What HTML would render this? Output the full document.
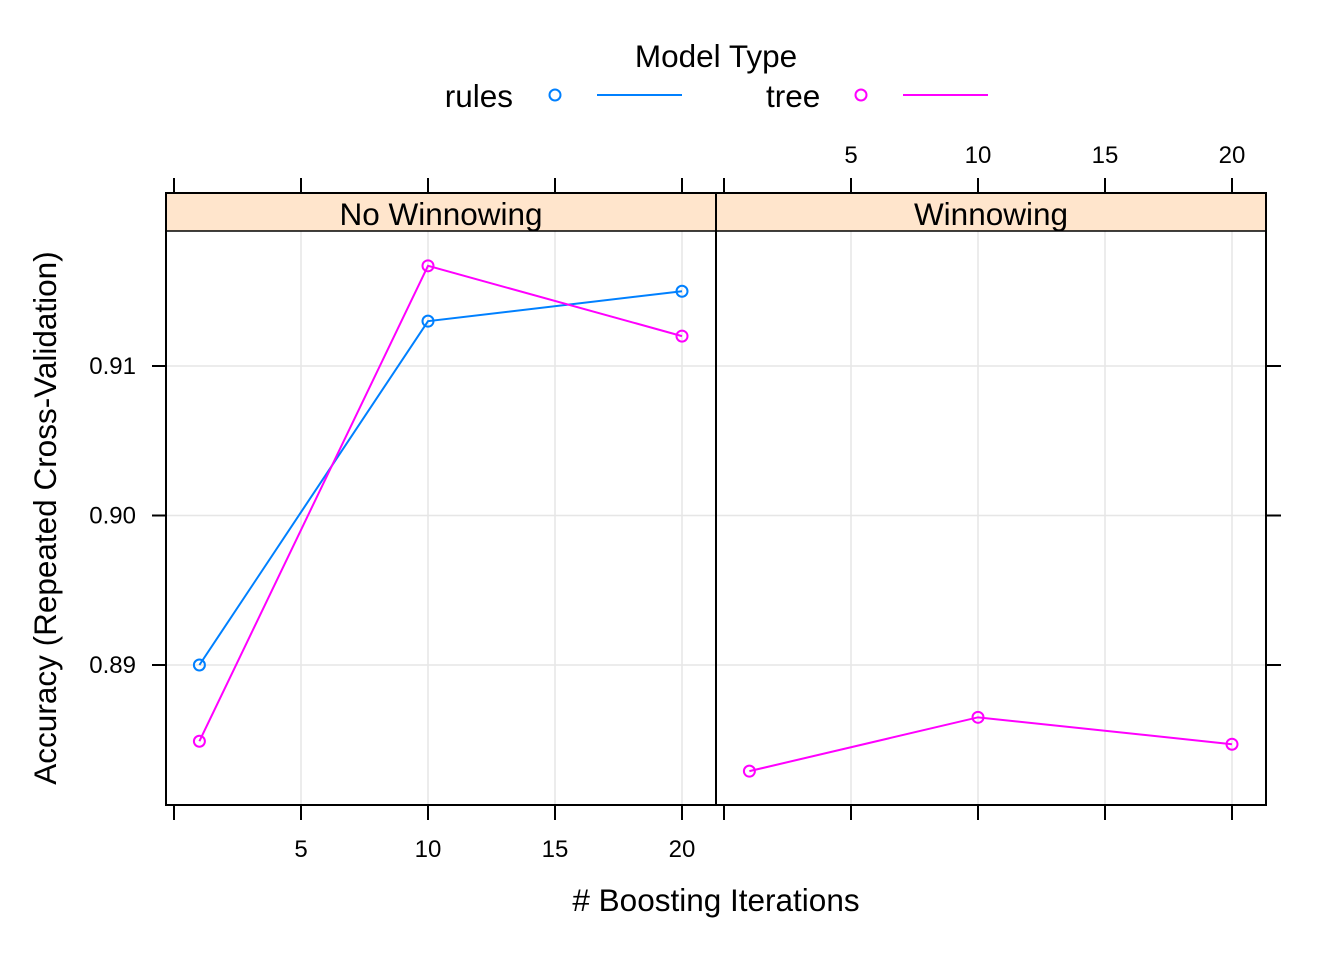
<!DOCTYPE html>
<html><head><meta charset="utf-8"><style>
body{margin:0;background:#fff}
svg text{font-family:"Liberation Sans",Arial,sans-serif;fill:#000}
</style></head><body>
<svg id="chart" width="1344" height="960" xmlns="http://www.w3.org/2000/svg">
<g id="legend">
<text x="716" y="67" font-size="31.5" text-anchor="middle">Model Type</text>
<text x="513" y="107" font-size="31.5" text-anchor="end">rules</text>
<circle cx="555" cy="95" r="5.5" fill="none" stroke="#0080ff" stroke-width="2"/>
<line x1="597" x2="682" y1="95" y2="95" stroke="#0080ff" stroke-width="2"/>
<text x="766" y="107" font-size="31.5">tree</text>
<circle cx="861" cy="95" r="5.5" fill="none" stroke="#ff00ff" stroke-width="2"/>
<line x1="903" x2="988" y1="95" y2="95" stroke="#ff00ff" stroke-width="2"/>
</g>
<text transform="translate(56,518) rotate(-90)" font-size="31.5" text-anchor="middle">Accuracy (Repeated Cross-Validation)</text>
<text x="716" y="911" font-size="31.5" text-anchor="middle"># Boosting Iterations</text>
<g id="plot"></g>
</svg>
<script>
const panels = ["No Winnowing", "Winnowing"];
const iterations = [1, 10, 20];
const rulesNoWinnow = [0.8900, 0.9130, 0.9150];
const treeNoWinnow = [0.8849, 0.9167, 0.9120];
const rulesWinnow = [];
const treeWinnow = [0.8829, 0.8865, 0.8847];
const xTicks = [0, 5, 10, 15, 20];
const xTickLabels = ["", "5", "10", "15", "20"];
const yTicks = [0.89, 0.90, 0.91];
const yTickLabels = ["0.89", "0.90", "0.91"];

(function () {
const NS = "http://www.w3.org/2000/svg";
const g = document.getElementById("plot");
const panelW = 550, topY = 193, stripH = 38, bottomY = 805;
const panelLeft = i => 166 + i * panelW;
const x = (v, i) => panelLeft(i) + 8 + v * 25.4;
const y = v => 366 + (0.91 - v) * 14950;
function mk(tag, attrs, parent) {
  const e = document.createElementNS(NS, tag);
  for (const k in attrs) e.setAttribute(k, attrs[k]);
  (parent || g).appendChild(e);
  return e;
}
const seriesByPanel = [
  [["rules", rulesNoWinnow, "#0080ff"], ["tree", treeNoWinnow, "#ff00ff"]],
  [["rules", rulesWinnow, "#0080ff"], ["tree", treeWinnow, "#ff00ff"]]
];
panels.forEach((name, i) => {
  const L = panelLeft(i), R = L + panelW;
  const pg = mk("g", {});
  
  
  xTicks.slice(1).forEach(t => {
    const l = mk("line", {x1: x(t, i), x2: x(t, i), y1: topY + stripH, y2: bottomY, stroke: "#e6e6e6", "stroke-width": 1.5}, pg);
    
    
  });
  yTicks.forEach(t => {
    const l = mk("line", {x1: L, x2: R, y1: y(t), y2: y(t), stroke: "#e6e6e6", "stroke-width": 1.5}, pg);
    
    
  });
  const s = mk("rect", {x: L, y: topY, width: panelW, height: stripH, fill: "#ffe5cc", stroke: "#000", "stroke-width": 1.5}, pg);
  
  
  const st = mk("text", {x: L + panelW / 2, y: topY + 32, "font-size": 31.5, "text-anchor": "middle"}, pg);
  st.textContent = name;
  
  
  seriesByPanel[i].forEach(([sn, vals, col]) => {
    if (!vals.length) return;
    const pts = vals.map((v, k) => x(iterations[k], i) + "," + y(v)).join(" ");
    const pl = mk("polyline", {points: pts, fill: "none", stroke: col, "stroke-width": 2}, pg);
    
    
    vals.forEach((v, k) => {
      const c = mk("circle", {cx: x(iterations[k], i), cy: y(v), r: 5.5, fill: "none", stroke: col, "stroke-width": 2}, pg);
      
      
    });
  });
  const f = mk("rect", {x: L, y: topY, width: panelW, height: bottomY - topY, fill: "none", stroke: "#000", "stroke-width": 2}, pg);
  
  
  xTicks.forEach((t, k) => {
    const yt = i === 0 ? bottomY : topY;
    const d = i === 0 ? 15 : -15;
    mk("line", {x1: x(t, i), x2: x(t, i), y1: yt, y2: yt + d, stroke: "#000", "stroke-width": 2}, pg);
    const ot = i === 0 ? topY : bottomY;
    mk("line", {x1: x(t, i), x2: x(t, i), y1: ot, y2: ot - d, stroke: "#000", "stroke-width": 2}, pg);
    if (xTickLabels[k]) {
      const tx = mk("text", {x: x(t, i), y: i === 0 ? 857 : 163, "font-size": 24, "text-anchor": "middle"}, pg);
      tx.textContent = xTickLabels[k];
      
      
    }
  });
});
yTicks.forEach((t, k) => {
  mk("line", {x1: 166, x2: 152, y1: y(t), y2: y(t), stroke: "#000", "stroke-width": 2});
  mk("line", {x1: 1266, x2: 1281, y1: y(t), y2: y(t), stroke: "#000", "stroke-width": 2});
  const tx = mk("text", {x: 136, y: y(t) + 8, "font-size": 24, "text-anchor": "end"});
  tx.textContent = yTickLabels[k];
  
  
});
})();
</script>
</body></html>
